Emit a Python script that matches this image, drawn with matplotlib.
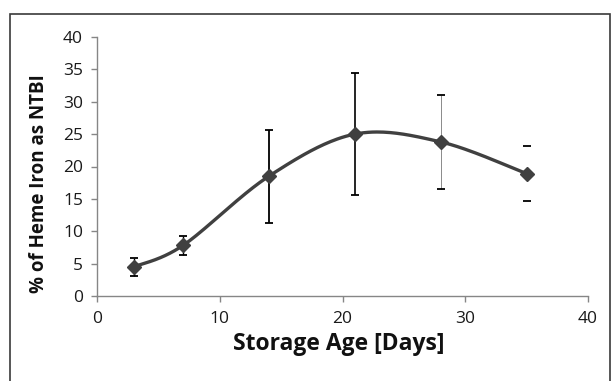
import numpy as np
import matplotlib
matplotlib.use("Agg")
import matplotlib.pyplot as plt
from matplotlib.patches import Rectangle

# Data
days = [3, 7, 14, 21, 28, 35]
ntbi = [4.5, 7.8, 18.5, 25.0, 23.8, 18.9]
err = [1.4, 1.45, 7.2, 9.4, 7.3, 4.3]
x_ticks = [0, 10, 20, 30, 40]
y_ticks = [0, 5, 10, 15, 20, 25, 30, 35, 40]
x_label = "Storage Age [Days]"
y_label = "% of Heme Iron as NTBI"


def smooth_curve(x, y, n=40):
    """Excel-style smoothed line: cubic Bezier segments with Catmull-Rom controls."""
    x = np.asarray(x, float)
    y = np.asarray(y, float)
    px = np.concatenate([[x[0]], x, [x[-1]]])
    py = np.concatenate([[y[0]], y, [y[-1]]])
    xs, ys = [], []
    t = np.linspace(0, 1, n)
    for i in range(1, len(px) - 2):
        p0 = np.array([px[i], py[i]])
        p3 = np.array([px[i + 1], py[i + 1]])
        c1 = p0 + (np.array([px[i + 1], py[i + 1]]) - np.array([px[i - 1], py[i - 1]])) / 6
        c2 = p3 - (np.array([px[i + 2], py[i + 2]]) - np.array([px[i], py[i]])) / 6
        b = ((1 - t) ** 3)[:, None] * p0 + (3 * (1 - t) ** 2 * t)[:, None] * c1 \
            + (3 * (1 - t) * t ** 2)[:, None] * c2 + (t ** 3)[:, None] * p3
        xs.extend(b[:, 0])
        ys.extend(b[:, 1])
    return np.array(xs), np.array(ys)


fig = plt.figure(figsize=(6.12, 3.81), dpi=100)
fig.patch.set_facecolor("white")

# outer frame
fig.patches.append(Rectangle((10 / 612, -0.05), (610 - 10) / 612, 1.05 - 14 / 381,
                             transform=fig.transFigure, fill=False,
                             edgecolor="#3a3a3a", linewidth=1.2, zorder=0))

ax = fig.add_axes([97 / 612, 1 - 296 / 381, (588 - 97) / 612, (296 - 37) / 381])

sx, sy = smooth_curve(days, ntbi)
ax.plot(sx, sy, color="#404040", linewidth=2.4, solid_capstyle="round", zorder=3)
ax.plot(days, ntbi, linestyle="none", marker="D", markersize=7,
        color="#404040", zorder=4)

eb = ax.errorbar(days, ntbi, yerr=err, fmt="none", ecolor="black",
                 elinewidth=1.0, capsize=2.8, capthick=1.3, zorder=2)
eb[2][0].set_linewidths([1.0, 1.0, 1.3, 1.2, 0.6, 0.0])
eb[2][0].set_colors(["black", "black", "black", "black", "#777777", "white"])

ax.set_xlim(0, 40)
ax.set_ylim(0, 40)
ax.set_xticks(x_ticks)
ax.set_yticks(y_ticks)

for s in ["top", "right"]:
    ax.spines[s].set_visible(False)
for s in ["left", "bottom"]:
    ax.spines[s].set_color("#868686")
    ax.spines[s].set_linewidth(1.0)

ax.tick_params(axis="both", direction="out", length=4, width=1.0, color="#868686",
               labelsize=12.5, labelcolor="#1a1a1a")
for lab in ax.get_xticklabels() + ax.get_yticklabels():
    lab.set_fontfamily("Open Sans")
ax.tick_params(axis="x", pad=7)
ax.tick_params(axis="y", pad=6)

ax.set_xlabel(x_label, fontsize=16.5, fontweight="bold", fontfamily="Open Sans",
              color="#111111")
ax.set_ylabel(y_label, fontsize=13.5, fontweight="bold", fontfamily="Open Sans",
              color="#111111")
ax.xaxis.set_label_coords((338.5 - 97) / 491, -0.14)
ax.yaxis.set_label_coords((49 - 97) / 491, (296 - 183.5) / 259)

fig.savefig("out.png", dpi=100)
